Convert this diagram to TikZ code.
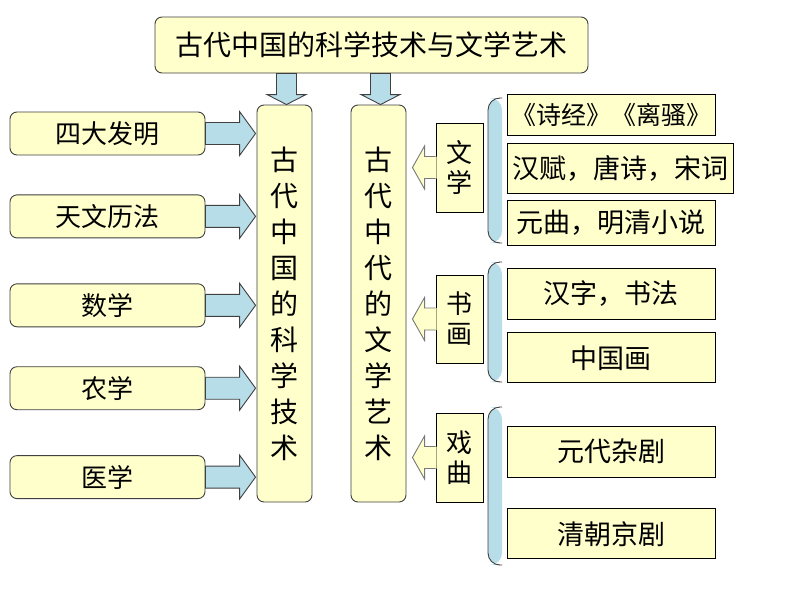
\documentclass[tikz,border=0pt]{standalone}
\usepackage{fontspec}
\setmainfont{Noto Sans CJK SC}
\usepackage{tikz}
\usetikzlibrary{positioning, calc}

\definecolor{boxyellow}{RGB}{255,255,204}
\definecolor{arrowblue}{RGB}{183,221,232}
\definecolor{edgegray}{RGB}{64,64,64}
\definecolor{hollowgray}{RGB}{120,120,120}

% block arrow pointing right, from #1.east to #2.west
\newcommand{\rightblock}[2]{%
	\draw [blk] let \p1=(#1.east), \p2=(#2.west) in
		(\x1,\y1+11pt) -- (\x2-17pt,\y1+11pt) -- (\x2-17pt,\y1+22pt) -- (\x2-1pt,\y1)
		-- (\x2-17pt,\y1-22pt) -- (\x2-17pt,\y1-11pt) -- (\x1,\y1-11pt) -- cycle;}
% block arrow pointing down, from #1.south to #2.north
\newcommand{\downblock}[2]{%
	\draw [blk] let \p1=(#2.north), \p2=(#1.south) in
		(\x1-8pt,\y2) -- (\x1-8pt,\y1+10pt) -- (\x1-17.5pt,\y1+10pt) -- (\x1+2pt,\y1)
		-- (\x1+21.5pt,\y1+10pt) -- (\x1+12pt,\y1+10pt) -- (\x1+12pt,\y2) -- cycle;}
% hollow arrow pointing left, from #1.west towards #2.east
\newcommand{\leftblock}[2]{%
	\fill [boxyellow] let \p1=(#1.west), \p2=(#2.east) in
		(\x1+1pt,\y1+11pt) -- (\x1-11pt,\y1+11pt) -- (\x1-11pt,\y1+21.5pt) -- (\x2+6pt,\y1)
		-- (\x1-11pt,\y1-21.5pt) -- (\x1-11pt,\y1-11pt) -- (\x1+1pt,\y1-11pt) -- cycle;
	\draw [hollow] let \p1=(#1.west), \p2=(#2.east) in
		(\x1,\y1+11pt) -- (\x1-11pt,\y1+11pt) -- (\x1-11pt,\y1+21.5pt) -- (\x2+6pt,\y1)
		-- (\x1-11pt,\y1-21.5pt) -- (\x1-11pt,\y1-11pt) -- (\x1,\y1-11pt);}

\begin{document}
\begin{tikzpicture}[x=1pt, y=-1pt]

	\tikzstyle{rbox}=[draw=edgegray, line width=0.9pt, fill=boxyellow, rounded corners=7pt, inner sep=0, align=center];
	\tikzstyle{lbox}=[rbox, minimum width=195pt, minimum height=43pt, font=\fontsize{26}{30}\selectfont];
	\tikzstyle{tall}=[rbox, minimum width=55pt, minimum height=397pt, font=\fontsize{28}{36}\selectfont];
	\tikzstyle{cat}=[draw=black, line width=0.9pt, fill=boxyellow, inner sep=0, align=center, minimum width=47pt, font=\fontsize{26}{30}\selectfont];
	\tikzstyle{item}=[draw=black, line width=0.9pt, fill=boxyellow, inner sep=0, align=center, minimum width=208pt, font=\fontsize{27}{30}\selectfont];
	\tikzstyle{blk}=[draw=edgegray, line width=0.9pt, fill=arrowblue];
	\tikzstyle{hollow}=[draw=hollowgray, line width=0.9pt];
	\tikzstyle{brace}=[rounded corners=12pt];

	\useasboundingbox [fill=white] (0,0) rectangle (800,600);

	% title
	\node (title) [rbox, minimum width=433pt, minimum height=56pt, font=\fontsize{28}{32}\selectfont] at (371.5,45) {古代中国的科学技术与文学艺术};

	% the two tall boxes
	\node (sci) [tall] at (284.5,303.5) {古\\代\\中\\国\\的\\科\\学\\技\\术};
	\node (art) [tall] at (378.5,303.5) {古\\代\\中\\代\\的\\文\\学\\艺\\术};

	% science topics
	\node (sida) [lbox] at (107.5,133.5) {四大发明};
	\node (tianwen) [lbox, below=39pt of sida] {天文历法};
	\node (shuxue) [lbox, below=45pt of tianwen] {数学};
	\node (nongxue) [lbox, below=39pt of shuxue] {农学};
	\node (yixue) [lbox, below=45pt of nongxue] {医学};

	% art categories
	\node (wenxue) [cat, minimum height=89pt] at (459.5,167.5) {文\\学};
	\node (shuhua) [cat, minimum height=88pt] at (459.5,319) {书\\画};
	\node (xiqu) [cat, minimum height=89pt] at (459.5,457.5) {戏\\曲};

	% items
	\node (shijing) [item, minimum height=41pt, font=\fontsize{25}{30}\selectfont] at (611,114.5) {《诗经》《离骚》};
	\node (hanfu) [item, minimum width=226pt, minimum height=50pt, anchor=west] at (507,168) {汉赋，唐诗，宋词};
	\node (yuanqu) [item, minimum height=45pt] at (611,222.5) {元曲，明清小说};
	\node (hanzi) [item, minimum height=51pt] at (611,293.5) {汉字，书法};
	\node (guohua) [item, minimum height=50pt, below=13pt of hanzi] {中国画};
	\node (zaju) [item, minimum height=51pt] at (611,451.5) {元代杂剧};
	\node (jingju) [item, minimum height=50pt, below=31pt of zaju] {清朝京剧};

	% braces
	\fill [arrowblue, brace] (502,98) -- (488,98) -- (488,243) -- (502,243) -- cycle;
	\draw [edgegray, line width=0.9pt, brace] (502,98) -- (488,98) -- (488,243) -- (502,243);
	\fill [arrowblue, brace] (502,262) -- (488,262) -- (488,382) -- (502,382) -- cycle;
	\draw [edgegray, line width=0.9pt, brace] (502,262) -- (488,262) -- (488,382) -- (502,382);
	\fill [arrowblue, brace] (502,407) -- (488,407) -- (488,565) -- (502,565) -- cycle;
	\draw [edgegray, line width=0.9pt, brace] (502,407) -- (488,407) -- (488,565) -- (502,565);

	% arrows
	\downblock{title}{sci}
	\downblock{title}{art}

	\rightblock{sida}{sci}
	\rightblock{tianwen}{sci}
	\rightblock{shuxue}{sci}
	\rightblock{nongxue}{sci}
	\rightblock{yixue}{sci}

	\leftblock{wenxue}{art}
	\leftblock{shuhua}{art}
	\leftblock{xiqu}{art}

\end{tikzpicture}
\end{document}
